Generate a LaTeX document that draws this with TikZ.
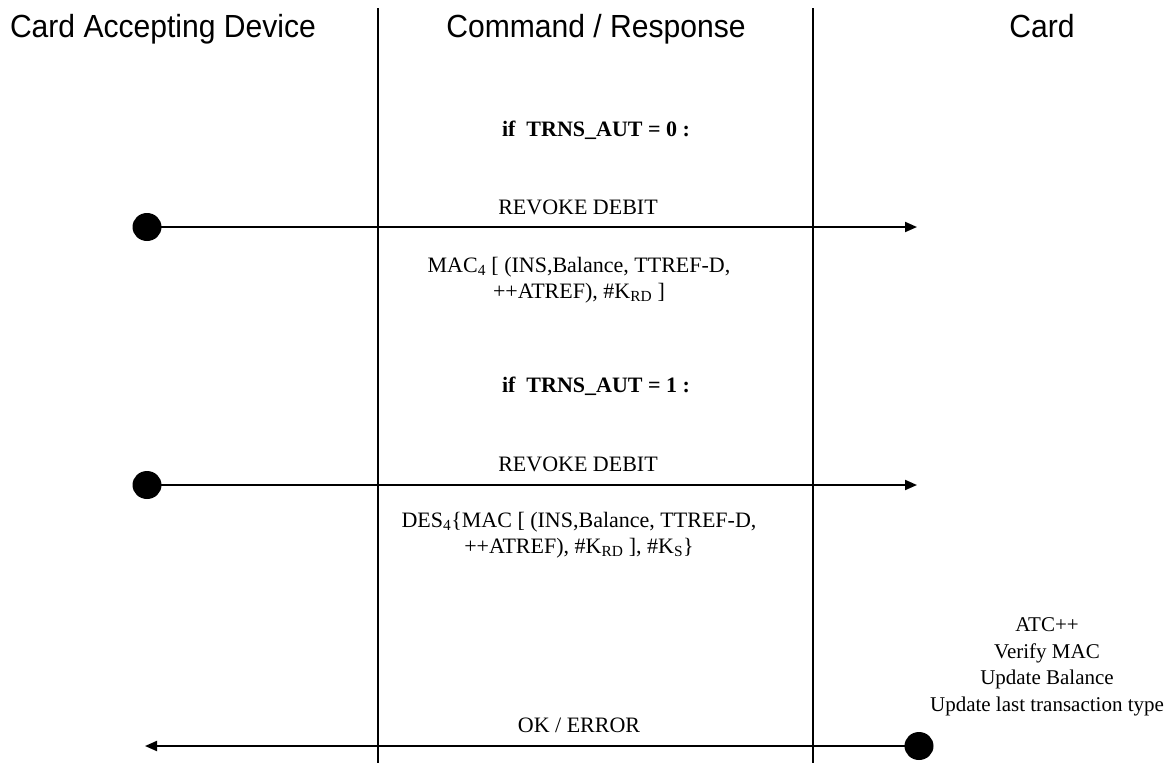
\documentclass[tikz,border=0pt]{standalone}
\usepackage{fontspec}
\setmainfont{Liberation Serif}
\newfontfamily\headfont[FakeStretch=0.94]{Liberation Sans}
\usetikzlibrary{arrows.meta,shapes.geometric}
\tikzset{
  head/.style={font=\headfont\fontsize{32}{36}\selectfont, inner sep=0pt, anchor=base},
  lbl/.style={font=\fontsize{22}{26}\selectfont, inner sep=0pt, align=center},
  cardlbl/.style={font=\fontsize{21}{26.5}\selectfont, inner sep=0pt, align=center},
  cond/.style={font=\bfseries\fontsize{22}{26}\selectfont, inner sep=0pt},
  lane/.style={line width=1.3pt},
  msg/.style={line width=2pt, -{Triangle[length=12pt,width=10pt]}},
  dot/.style={ellipse, fill=black, minimum width=29pt, minimum height=28pt, inner sep=0pt},
}
\begin{document}
\begin{tikzpicture}[x=1pt,y=-1pt]
\useasboundingbox (0,0) rectangle (1167,763);
% headings
\node[head] (h1) at (163,37) {Card Accepting Device};
\node[head] (h2) at (596,37) {Command / Response};
\node[head] (h3) at (1042,37) {Card};
% lanes
\coordinate (l1t) at (378,8); \coordinate (l1b) at (378,763);
\coordinate (l2t) at (813,8); \coordinate (l2b) at (813,763);
\draw[lane] (l1t) -- (l1b);
\draw[lane] (l2t) -- (l2b);
% condition 0
\node[cond] (c0) at (596,130) {if\ \ TRNS\_AUT = 0 :};
\node[dot] (d1) at (147,227) {};
\coordinate (t1) at (917,227);
\draw[msg] (d1.center) -- (t1);
\node[lbl] (m1) at (578,207) {REVOKE DEBIT};
\node[lbl] (p1) at (579,280) {MAC\textsubscript{4} [ (INS,Balance, TTREF-D,\\ ++ATREF), \#K\textsubscript{RD} ]};
% condition 1
\node[cond] (c1) at (596,386) {if\ \ TRNS\_AUT = 1 :};
\node[dot] (d2) at (147,485) {};
\coordinate (t2) at (917,485);
\draw[msg] (d2.center) -- (t2);
\node[lbl] (m2) at (578,464) {REVOKE DEBIT};
\node[lbl] (p2) at (579,535) {DES\textsubscript{4}\{MAC [ (INS,Balance, TTREF-D,\\ ++ATREF), \#K\textsubscript{RD} ], \#K\textsubscript{S}\}};
% card processing
\node[cardlbl] (proc) at (1047,667) {ATC++\\ Verify MAC\\ Update Balance\\ Update last transaction type};
% response
\node[dot] (d3) at (919,746) {};
\coordinate (t3) at (145,746);
\draw[msg] (d3.center) -- (t3);
\node[lbl] (m3) at (579,725) {OK / ERROR};
\end{tikzpicture}
\end{document}
